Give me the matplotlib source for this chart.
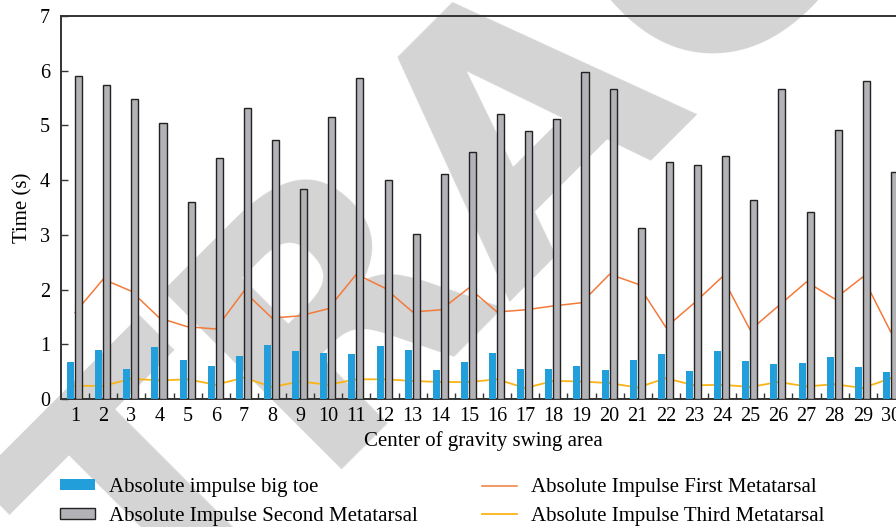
import matplotlib
matplotlib.use("Agg")
import matplotlib.pyplot as plt
import numpy as np
from matplotlib.patches import Patch
from matplotlib.lines import Line2D

plt.rcParams['font.family'] = ['Liberation Serif', 'DejaVu Serif']

categories = list(range(1, 31))
big_toe = [0.68, 0.90, 0.55, 0.95, 0.71, 0.60, 0.79, 0.99, 0.88, 0.84,
           0.82, 0.97, 0.90, 0.53, 0.68, 0.84, 0.55, 0.55, 0.60, 0.53,
           0.71, 0.82, 0.51, 0.88, 0.70, 0.64, 0.66, 0.77, 0.59, 0.49]
second_meta = [5.90, 5.73, 5.49, 5.05, 3.60, 4.40, 5.32, 4.74, 3.84, 5.16,
               5.87, 4.01, 3.02, 4.11, 4.52, 5.21, 4.89, 5.12, 5.97, 5.67,
               3.12, 4.34, 4.28, 4.44, 3.63, 5.66, 3.41, 4.91, 5.81, 4.15]
first_meta = [1.58, 2.19, 1.97, 1.48, 1.32, 1.28, 1.97, 1.48, 1.52, 1.65,
              2.28, 2.03, 1.59, 1.63, 2.03, 1.59, 1.63, 1.70, 1.76, 2.28,
              2.10, 1.31, 1.75, 2.23, 1.26, 1.70, 2.14, 1.83, 2.23, 1.22]
third_meta = [0.24, 0.24, 0.37, 0.34, 0.36, 0.26, 0.39, 0.22, 0.32, 0.26,
              0.36, 0.36, 0.33, 0.31, 0.31, 0.36, 0.20, 0.33, 0.32, 0.29,
              0.21, 0.38, 0.25, 0.26, 0.22, 0.31, 0.23, 0.27, 0.20, 0.38]

labels = ["Absolute impulse big toe", "Absolute Impulse Second Metatarsal",
          "Absolute Impulse First Metatarsal", "Absolute Impulse Third Metatarsal"]

BLUE = '#229fda'
GREY = '#b3b3b7'
ORANGE = '#f47a3a'
YELLOW = '#fbb416'
SPINE = '#333333'

fig = plt.figure(figsize=(8.96, 5.27), dpi=100)

# watermark
fig.text(530/896, 1-115/527, "RETRACTED", fontsize=250, fontweight='bold',
         family='DejaVu Sans', color='#d4d4d4', rotation=45,
         ha='center', va='center', rotation_mode='anchor', zorder=-1)

ax = fig.add_axes([61/896, 1-399/527, (905-61)/896, (399-16)/527])
ax.patch.set_alpha(0)

x = np.array(categories)
ax.bar(x - 0.285, big_toe, width=0.25, align='edge', color=BLUE, zorder=3)
ax.bar(x, second_meta, width=0.25, align='edge', color=GREY,
       edgecolor='#222222', linewidth=1.0, zorder=3)
ax.plot(x, first_meta, color=ORANGE, linewidth=1.1, zorder=2)
ax.plot(x, third_meta, color=YELLOW, linewidth=1.3, zorder=2)

ax.set_xlim(0.5, 30.5)
ax.set_ylim(0, 7)
ax.set_yticks(range(0, 8))
ax.set_xticks(x)
ax.set_xticklabels([str(c) for c in categories])
ax.set_xticks(np.arange(1.5, 30.5, 1), minor=True)
ax.tick_params(axis='x', which='major', length=0, pad=6, labelsize=14.5)
ax.tick_params(axis='x', which='minor', direction='in', length=4, width=1.0, color=SPINE)
ax.tick_params(axis='y', direction='in', length=5, width=1.0, color=SPINE, pad=8, labelsize=14.5)

for s in ['left', 'top', 'bottom']:
    ax.spines[s].set_color(SPINE)
    ax.spines[s].set_linewidth(1.4)
ax.spines['right'].set_visible(False)

ax.set_ylabel("Time (s)", fontsize=15)
ax.yaxis.set_label_coords(-0.034, 0.5)
ax.set_xlabel("Center of gravity swing area", fontsize=15)
ax.xaxis.set_label_coords(0.5, -0.084)

h1 = [Patch(facecolor=BLUE, edgecolor='none'),
      Patch(facecolor=GREY, edgecolor='#222222', linewidth=1.0)]
h2 = [Line2D([], [], color=ORANGE, linewidth=1.1),
      Line2D([], [], color=YELLOW, linewidth=1.3)]
common = dict(loc='center left', frameon=False, fontsize=15, borderpad=0,
              borderaxespad=0, handlelength=1.7, handleheight=0.42,
              handletextpad=0.65, labelspacing=0.45)
leg1 = fig.legend(h1, labels[:2], bbox_to_anchor=(60/896, 1-502/527), **common)
leg2 = fig.legend(h2, labels[2:], bbox_to_anchor=(482/896, 1-502/527), **common)

fig.savefig("out.png", dpi=100)
